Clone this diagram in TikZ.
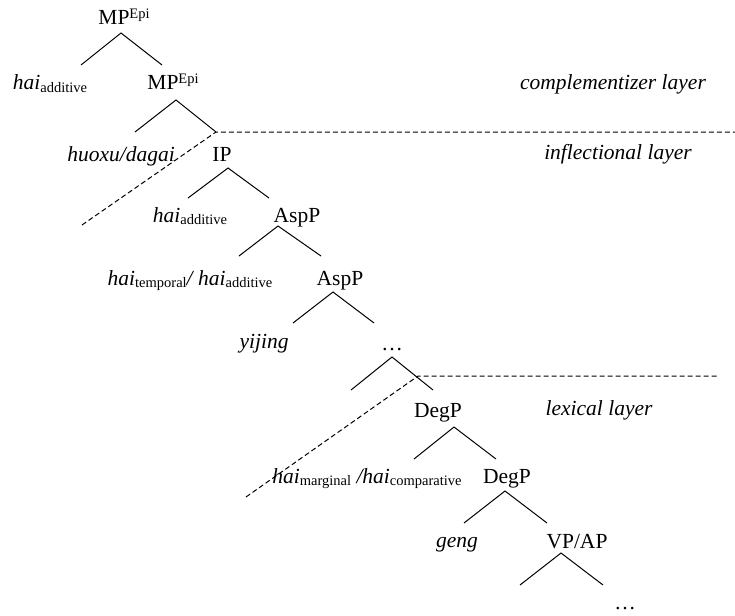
\documentclass[tikz,border=0pt]{standalone}
\usepackage{fontspec}
\setmainfont{Liberation Serif}
\newcommand\lsub[1]{\raisebox{-2.5pt}{\fontsize{14.5}{16}\selectfont\upshape #1}}
\newcommand\lsup[1]{\raisebox{6pt}{\fontsize{14.5}{16}\selectfont\upshape #1}}
\begin{document}
\begin{tikzpicture}[x=1pt,y=-1pt,
  lbl/.style={inner sep=0pt,anchor=base,font=\fontsize{21.5}{24}\selectfont},
  it/.style={lbl,font=\fontsize{21.5}{24}\selectfont\itshape},
  branch/.style={line width=1pt},
  layerline/.style={line width=1pt,dash pattern=on 5pt off 3pt}]
\useasboundingbox (0,0) rectangle (735,615);
% labels
\node[lbl] (mp1) at (124,25) {MP\lsup{Epi}};
\node[it] (hai1) at (50,90) {hai\lsub{additive}};
\node[lbl] (mp2) at (173,90) {MP\lsup{Epi}};
\node[it] (comp) at (613,90) {complementizer layer};
\node[it] (huoxu) at (121,161) {huoxu/dagai};
\node[lbl] (ip) at (222,161) {IP};
\node[it] (infl) at (618,159) {inflectional layer};
\node[it] (hai2) at (190,222) {hai\lsub{additive}};
\node[lbl] (asp1) at (297,222) {AspP};
\node[it] (hai3) at (190,285) {hai\lsub{temporal}/ hai\lsub{additive}};
\node[lbl] (asp2) at (340,285) {AspP};
\node[it] (yijing) at (264,348) {yijing};
\node[lbl] (dots1) at (392,350) {…};
\node[lbl] (deg1) at (438,417) {DegP};
\node[it] (lex) at (599,415) {lexical layer};
\node[it] (hai4) at (367,483) {hai\lsub{marginal} /hai\lsub{comparative}};
\node[lbl] (deg2) at (507,483) {DegP};
\node[it] (geng) at (457,547) {geng};
\node[lbl] (vpap) at (577,548) {VP/AP};
\node[lbl] (dots2) at (625,609) {…};
% branch points
\coordinate (a1) at (121,33);  \coordinate (l1) at (81,65);   \coordinate (r1) at (162,65);
\coordinate (a2) at (176,100); \coordinate (l2) at (135,132); \coordinate (r2) at (216,132);
\coordinate (a3) at (228,168); \coordinate (l3) at (188,198); \coordinate (r3) at (269,198);
\coordinate (a4) at (278,226); \coordinate (l4) at (239,256); \coordinate (r4) at (321,256);
\coordinate (a5) at (333,292); \coordinate (l5) at (293,323); \coordinate (r5) at (374,323);
\coordinate (a6) at (392,357); \coordinate (l6) at (351,390); \coordinate (r6) at (433,390);
\coordinate (a7) at (454,427); \coordinate (l7) at (414,459); \coordinate (r7) at (496,459);
\coordinate (a8) at (505,491); \coordinate (l8) at (464,523); \coordinate (r8) at (547,523);
\coordinate (a9) at (561,553); \coordinate (l9) at (520,585); \coordinate (r9) at (603,585);
\foreach \i in {1,...,9} {\draw[branch] (l\i) -- (a\i) -- (r\i);}
% layer boundaries
\coordinate (d1) at (216,132); \coordinate (d1e) at (735,132); \coordinate (d1s) at (82,225);
\coordinate (d2) at (418,376); \coordinate (d2e) at (717,376); \coordinate (d2s) at (246,497);
\draw[layerline] (d1s) -- (d1) -- (d1e);
\draw[layerline] (d2s) -- (d2) -- (d2e);
\end{tikzpicture}
\end{document}
